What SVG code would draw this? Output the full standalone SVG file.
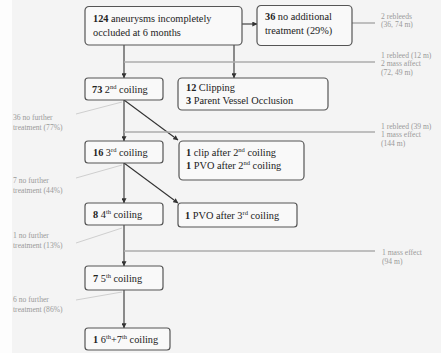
<svg xmlns="http://www.w3.org/2000/svg" width="441" height="353" viewBox="0 0 441 353">
<defs>
<marker id="ah" viewBox="0 0 8 8" refX="7.5" refY="4" markerWidth="5" markerHeight="5" orient="auto" markerUnits="userSpaceOnUse">
<path d="M0,0 L8,4 L0,8 z" fill="#333"/>
</marker>
<style>
.bg{fill:#f4f4f4}
.box{fill:#f9f9f9;stroke:#555;stroke-width:1.2}
.t{font-family:"Liberation Serif","Times New Roman",serif;font-size:10.3px;fill:#222}
.b{font-weight:bold}
.sup{font-size:6.5px}
.note{font-family:"Liberation Serif","Times New Roman",serif;font-size:7.6px;fill:#9a9a9a}
.arr{stroke:#333;stroke-width:1.1;fill:none;marker-end:url(#ah)}
.gl{stroke:#adadad;stroke-width:1.5;fill:none}
.gl2{stroke:#cfcfcf;stroke-width:1;fill:none}
</style>
</defs>
<rect x="0" y="0" width="441" height="353" fill="#fdfdfd"/>
<rect class="bg" x="12" y="0" width="429" height="353"/>

<g id="connectors">
<line class="arr" x1="124" y1="45" x2="124" y2="78"/>
<line class="arr" x1="234" y1="45" x2="234" y2="78"/>
<line class="arr" x1="242" y1="24" x2="257" y2="24"/>
<line class="arr" x1="124" y1="100" x2="124" y2="141"/>
<line class="arr" x1="124" y1="100" x2="178" y2="140"/>
<line class="arr" x1="124" y1="163" x2="124" y2="203"/>
<line class="arr" x1="124" y1="163" x2="178" y2="203"/>
<line class="arr" x1="124" y1="225" x2="124" y2="266"/>
<line class="arr" x1="124" y1="290" x2="124" y2="328"/>
<line class="gl" x1="352" y1="23" x2="375" y2="23"/>
<line class="gl" x1="124" y1="62" x2="375" y2="62"/>
<line class="gl" x1="124" y1="132" x2="375" y2="132"/>
<line class="gl" x1="124" y1="251" x2="375" y2="251"/>
<line class="gl2" x1="76" y1="114" x2="122" y2="102"/>
<line class="gl2" x1="76" y1="178" x2="122" y2="165"/>
<line class="gl2" x1="76" y1="243" x2="122" y2="228"/>
<line class="gl2" x1="76" y1="300" x2="122" y2="292"/>
</g>

<g id="n124">
<rect class="box" x="85" y="6.5" width="157" height="38.5" rx="4"/>
<text class="t" x="93" y="21.5"><tspan class="b">124</tspan> aneurysms incompletely</text>
<text class="t" x="93" y="35.5">occluded at 6 months</text>
</g>

<g id="n36">
<rect class="box" x="257" y="5.5" width="95" height="40" rx="4"/>
<text class="t" x="265" y="20"><tspan class="b">36</tspan> no additional</text>
<text class="t" x="265" y="34">treatment (29%)</text>
</g>

<g id="n73">
<rect class="box" x="85" y="78" width="78" height="22" rx="3"/>
<text class="t" x="92" y="92.5"><tspan class="b">73</tspan> 2<tspan class="sup" dy="-4">nd</tspan><tspan dy="4"> coiling</tspan></text>
</g>

<g id="n12">
<rect class="box" x="178" y="78" width="150" height="32" rx="4"/>
<text class="t" x="186" y="91"><tspan class="b">12</tspan> Clipping</text>
<text class="t" x="186" y="104"><tspan class="b">3</tspan> Parent Vessel Occlusion</text>
</g>

<g id="n16">
<rect class="box" x="85" y="141" width="78" height="22" rx="3"/>
<text class="t" x="93" y="155.5"><tspan class="b">16</tspan> 3<tspan class="sup" dy="-4">rd</tspan><tspan dy="4"> coiling</tspan></text>
</g>

<g id="nclip">
<rect class="box" x="179" y="141" width="125" height="39" rx="4"/>
<text class="t" x="186" y="155.5"><tspan class="b">1</tspan> clip after 2<tspan class="sup" dy="-4">nd</tspan><tspan dy="4"> coiling</tspan></text>
<text class="t" x="186" y="168.5"><tspan class="b">1</tspan> PVO after 2<tspan class="sup" dy="-4">nd</tspan><tspan dy="4"> coiling</tspan></text>
</g>

<g id="n8">
<rect class="box" x="85" y="203" width="78" height="22" rx="3"/>
<text class="t" x="93" y="217.5"><tspan class="b">8</tspan> 4<tspan class="sup" dy="-4">th</tspan><tspan dy="4"> coiling</tspan></text>
</g>

<g id="npvo">
<rect class="box" x="178" y="203" width="119" height="24" rx="3"/>
<text class="t" x="185" y="218.5"><tspan class="b">1</tspan> PVO after 3<tspan class="sup" dy="-4">rd</tspan><tspan dy="4"> coiling</tspan></text>
</g>

<g id="n7">
<rect class="box" x="85" y="266" width="78" height="24" rx="3"/>
<text class="t" x="93" y="281.5"><tspan class="b">7</tspan> 5<tspan class="sup" dy="-4">th</tspan><tspan dy="4"> coiling</tspan></text>
</g>

<g id="n1">
<rect class="box" x="85" y="328" width="85" height="22" rx="3"/>
<text class="t" x="93" y="342.5"><tspan class="b">1</tspan> 6<tspan class="sup" dy="-4">th</tspan><tspan dy="4">+7</tspan><tspan class="sup" dy="-4">th</tspan><tspan dy="4"> coiling</tspan></text>
</g>

<g id="notes">
<text class="note" x="381" y="18.5">2 rebleeds</text>
<text class="note" x="381" y="27">(36, 74 m)</text>
<text class="note" x="381" y="57.5">1 rebleed (12 m)</text>
<text class="note" x="381" y="66">2 mass affect</text>
<text class="note" x="381" y="74.5">(72, 49 m)</text>
<text class="note" x="381" y="128.5">1 rebleed (39 m)</text>
<text class="note" x="381" y="137">1 mass effect</text>
<text class="note" x="381" y="145.5">(144 m)</text>
<text class="note" x="382" y="254.5">1 mass effect</text>
<text class="note" x="382" y="263.5">(94 m)</text>
<text class="note" x="13" y="120">36 no further</text>
<text class="note" x="13" y="130">treatment (77%)</text>
<text class="note" x="13" y="183">7 no further</text>
<text class="note" x="13" y="193">treatment (44%)</text>
<text class="note" x="13" y="238">1 no further</text>
<text class="note" x="13" y="248">treatment (13%)</text>
<text class="note" x="13" y="302">6 no further</text>
<text class="note" x="13" y="312">treatment (86%)</text>
</g>
</svg>
